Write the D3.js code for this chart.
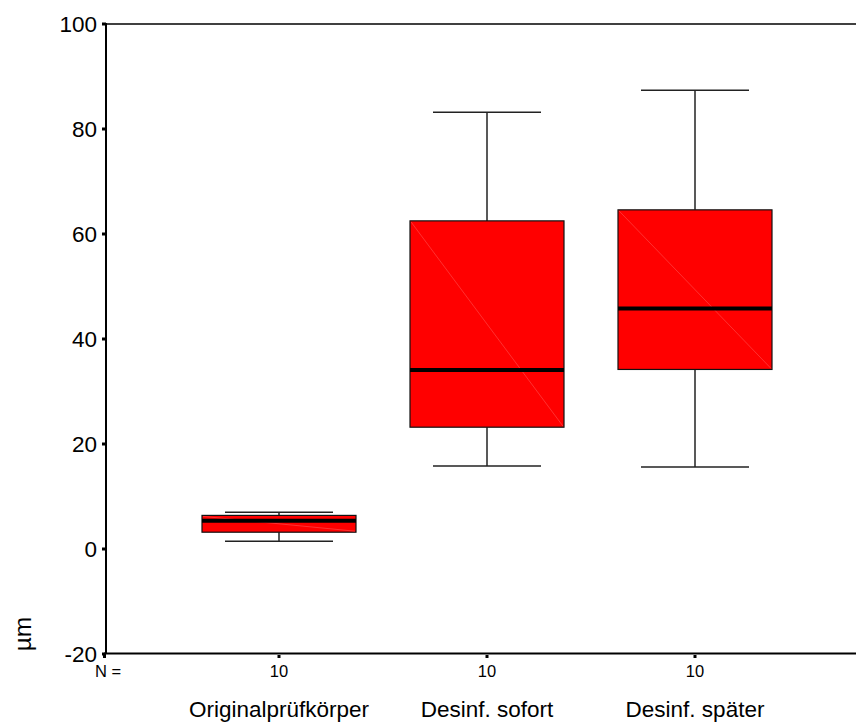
<!DOCTYPE html>
<html>
<head>
<meta charset="utf-8">
<script src="https://cdn.jsdelivr.net/npm/d3@7"></script>
<style>
  body { margin: 0; background: #fff; }
  svg { display: block; font-family: Arial, "Liberation Sans", sans-serif; }
</style>
</head>
<body>
<div id="chart"></div>
<script>
// Data
const categories = ['Originalprüfkörper', 'Desinf. sofort', 'Desinf. später']
const counts = [10, 10, 10]
const whiskerLow = [1.5, 15.8, 15.6]
const q1 = [3.2, 23.2, 34.2]
const medians = [5.4, 34.1, 45.8]
const q3 = [6.4, 62.5, 64.6]
const whiskerHigh = [7.0, 83.2, 87.4]
const yTicks = [-20, 0, 20, 40, 60, 80, 100]

const boxes = categories.map((c, i) => ({
  name: c, n: counts[i], lo: whiskerLow[i], q1: q1[i], med: medians[i], q3: q3[i], hi: whiskerHigh[i]
}))

const dims = { width: 856, height: 722, left: 106, top: 24, bottom: 654 }

const svg = d3.select('#chart').append('svg')
  .attr('width', dims.width)
  .attr('height', dims.height)

// Scales
const yScale = d3.scaleLinear().domain([-20, 100]).range([dims.bottom, dims.top])
const xScale = d3.scalePoint().domain(categories).range([279, 695])
const boxW = 154
const capW = 108

// frame: left axis, top line, bottom axis
svg.append('line')
  .attr('x1', dims.left).attr('x2', dims.width)
  .attr('y1', dims.top).attr('y2', dims.top)
  .attr('stroke', '#000').attr('stroke-width', 1.5)
svg.append('line')
  .attr('x1', dims.left - 2).attr('x2', dims.width)
  .attr('y1', dims.bottom - 0.5).attr('y2', dims.bottom - 0.5)
  .attr('stroke', '#000').attr('stroke-width', 2)
svg.append('line')
  .attr('x1', dims.left).attr('x2', dims.left)
  .attr('y1', dims.top - 1).attr('y2', dims.bottom)
  .attr('stroke', '#000').attr('stroke-width', 2)

// y axis ticks + labels
const yAxis = svg.append('g')
yAxis.selectAll('rect')
  .data(yTicks)
  .join('rect')
  .attr('x', dims.left - 4)
  .attr('y', d => yScale(d) - 1.5)
  .attr('width', 4).attr('height', 3)
  .attr('fill', '#000')
yAxis.selectAll('text')
  .data(yTicks)
  .join('text')
  .attr('x', dims.left - 9)
  .attr('y', d => yScale(d))
  .attr('dy', '0.36em')
  .attr('text-anchor', 'end')
  .attr('font-size', 22.5)
  .text(d => d)

// x ticks, N labels, category labels
const xAxis = svg.append('g')
xAxis.selectAll('rect')
  .data(categories)
  .join('rect')
  .attr('x', d => xScale(d) - 1.5)
  .attr('y', dims.bottom + 1)
  .attr('width', 3).attr('height', 3)
  .attr('fill', '#000')
xAxis.append('rect')
  .attr('x', dims.left - 3).attr('y', dims.bottom + 1)
  .attr('width', 3).attr('height', 3).attr('fill', '#000')
xAxis.append('text')
  .attr('x', dims.left + 2).attr('y', 677)
  .attr('text-anchor', 'middle')
  .attr('font-size', 16.5)
  .text('N =')
xAxis.selectAll('text.n')
  .data(boxes)
  .join('text')
  .attr('class', 'n')
  .attr('x', d => xScale(d.name))
  .attr('y', 677)
  .attr('text-anchor', 'middle')
  .attr('font-size', 16.5)
  .text(d => d.n)
xAxis.selectAll('text.cat')
  .data(boxes)
  .join('text')
  .attr('class', 'cat')
  .attr('x', d => xScale(d.name))
  .attr('y', 717)
  .attr('text-anchor', 'middle')
  .attr('font-size', 22.5)
  .text(d => d.name)

// y title
svg.append('text')
  .attr('transform', 'translate(22, 634) rotate(-90)')
  .attr('dy', '0.35em')
  .attr('text-anchor', 'middle')
  .attr('font-size', 24.5)
  .text('µm')

// boxes
const g = svg.selectAll('g.box')
  .data(boxes)
  .join('g')
  .attr('class', 'box')
  .attr('transform', d => `translate(${xScale(d.name)},0)`)

// whiskers
g.append('line')
  .attr('x1', 0).attr('x2', 0)
  .attr('y1', d => yScale(d.hi)).attr('y2', d => yScale(d.q3))
  .attr('stroke', '#222').attr('stroke-width', 1.5)
g.append('line')
  .attr('x1', 0).attr('x2', 0)
  .attr('y1', d => yScale(d.q1)).attr('y2', d => yScale(d.lo))
  .attr('stroke', '#222').attr('stroke-width', 1.5)
g.append('line')
  .attr('x1', -capW / 2).attr('x2', capW / 2)
  .attr('y1', d => yScale(d.hi)).attr('y2', d => yScale(d.hi))
  .attr('stroke', '#222').attr('stroke-width', 1.5)
g.append('line')
  .attr('x1', -capW / 2).attr('x2', capW / 2)
  .attr('y1', d => yScale(d.lo)).attr('y2', d => yScale(d.lo))
  .attr('stroke', '#222').attr('stroke-width', 1.5)

// box
g.append('rect')
  .attr('x', -boxW / 2)
  .attr('y', d => yScale(d.q3))
  .attr('width', boxW)
  .attr('height', d => yScale(d.q1) - yScale(d.q3))
  .attr('fill', '#ff0000')
  .attr('stroke', '#111').attr('stroke-width', 1.2)

// faint diagonal (rendering artefact in the original)
g.append('line')
  .attr('x1', -boxW / 2 + 1).attr('y1', d => yScale(d.q3) + 1)
  .attr('x2', boxW / 2 - 1).attr('y2', d => yScale(d.q1) - 1)
  .attr('stroke', '#ff5050').attr('stroke-width', 0.6)

// median
g.append('line')
  .attr('x1', -boxW / 2).attr('x2', boxW / 2)
  .attr('y1', d => yScale(d.med)).attr('y2', d => yScale(d.med))
  .attr('stroke', '#000').attr('stroke-width', 4)
</script>
</body>
</html>
